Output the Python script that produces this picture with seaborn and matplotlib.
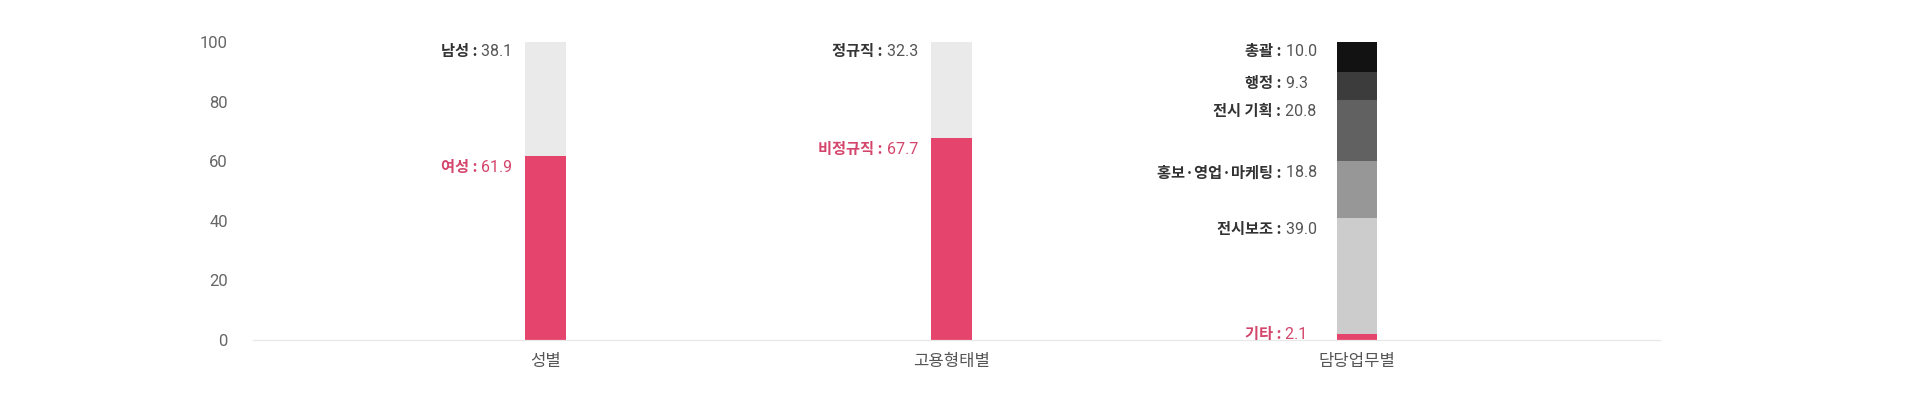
import matplotlib
matplotlib.use("Agg")
import matplotlib.pyplot as plt
from matplotlib.offsetbox import TextArea, HPacker, AnnotationBbox
import seaborn as sns
import pandas as pd

# ---------------- data ----------------
groups = ["성별", "고용형태별", "담당업무별"]

gender_labels = ["여성", "남성"]
gender_values = [61.9, 38.1]

employ_labels = ["비정규직", "정규직"]
employ_values = [67.7, 32.3]

duty_labels = ["기타", "전시보조", "홍보·영업·마케팅", "전시 기획", "행정", "총괄"]
duty_values = [2.1, 39.0, 18.8, 20.8, 9.3, 10.0]

y_ticks = [0, 20, 40, 60, 80, 100]

# ---------------- style ----------------
PINK = "#E5446D"
PINK_TEXT = "#D4456B"
gender_colors = [PINK, "#EAEAEA"]
employ_colors = [PINK, "#EAEAEA"]
duty_colors = [PINK, "#CCCCCC", "#979797", "#616161", "#3C3C3C", "#121212"]
label_gaps_px = [13, 13, 20]

sns.set_theme(style="white")
plt.rcParams["font.family"] = ["Roboto", "Noto Sans CJK KR", "DejaVu Sans"]

rows = []
for g, labs, vals, cols in zip(groups,
                               [gender_labels, employ_labels, duty_labels],
                               [gender_values, employ_values, duty_values],
                               [gender_colors, employ_colors, duty_colors]):
    cum = 0.0
    for lab, v, c in zip(labs, vals, cols):
        cum += v
        rows.append(dict(group=g, label=lab, value=v, top=cum, color=c))
df = pd.DataFrame(rows)

fig = plt.figure(figsize=(19.06, 4.11), dpi=100)
ax = fig.add_axes([253 / 1906, 71 / 411, (1660 - 253) / 1906, (340 - 42) / 411])

BAR_W = 0.1
# draw stacked bars: tallest cumulative first, shorter ones on top
for _, r in df.sort_values("top", ascending=False).iterrows():
    sns.barplot(data=pd.DataFrame({"group": [r["group"]], "top": [r["top"]]}),
                x="group", y="top", order=groups, color=r["color"],
                width=BAR_W, saturation=1, edgecolor="none", linewidth=0, ax=ax)

ax.set_xlim(-0.721, 2.747)
ax.set_ylim(0, 100)
ax.set_yticks(y_ticks)
ax.set_yticklabels([str(t) for t in y_ticks])
ax.set_xlabel("")
ax.set_ylabel("")
ax.tick_params(axis="y", length=0, pad=18, labelsize=12, labelcolor="#666666")
ax.tick_params(axis="x", length=0, pad=9, labelsize=12, labelcolor="#555555")
for t in ax.get_xticklabels():
    t.set_fontfamily(["Noto Sans CJK KR", "DejaVu Sans"])
for t in ax.get_yticklabels():
    t.set_fontfamily(["Roboto", "DejaVu Sans"])
for s in ["left", "right", "top"]:
    ax.spines[s].set_visible(False)
ax.spines["bottom"].set_color("#E8E8E8")
ax.spines["bottom"].set_linewidth(0.9)
ax.grid(False)

# labels
px2pt = 72 / fig.dpi
for gi, g in enumerate(groups):
    sub = df[df["group"] == g]
    for _, r in sub.iterrows():
        is_pink = r["color"] == PINK
        name_col = PINK_TEXT if is_pink else "#333333"
        val_col = PINK_TEXT if is_pink else "#555555"
        vs = f"{r['value']:.1f}"
        vs = vs + "\u2007" * (4 - len(vs))
        name_ta = TextArea(f"{r['label']} :", textprops=dict(
            color=name_col, fontsize=11, fontweight="bold",
            family=["Noto Sans CJK KR", "DejaVu Sans"]))
        val_ta = TextArea(f" {vs}", textprops=dict(
            color=val_col, fontsize=11.5,
            family=["Roboto", "DejaVu Sans"]))
        box = HPacker(children=[name_ta, val_ta], align="baseline", pad=0, sep=0)
        y = max(r["top"], 5.8)
        dy = -1 if r["top"] >= 99.9 else -3
        ab = AnnotationBbox(box, (gi - BAR_W / 2, y),
                            xybox=(-label_gaps_px[gi] * px2pt, dy * px2pt),
                            xycoords="data", boxcoords="offset points",
                            box_alignment=(1, 1), frameon=False, pad=0,
                            annotation_clip=False)
        ax.add_artist(ab)

fig.savefig("out.png", dpi=100, facecolor="white")
